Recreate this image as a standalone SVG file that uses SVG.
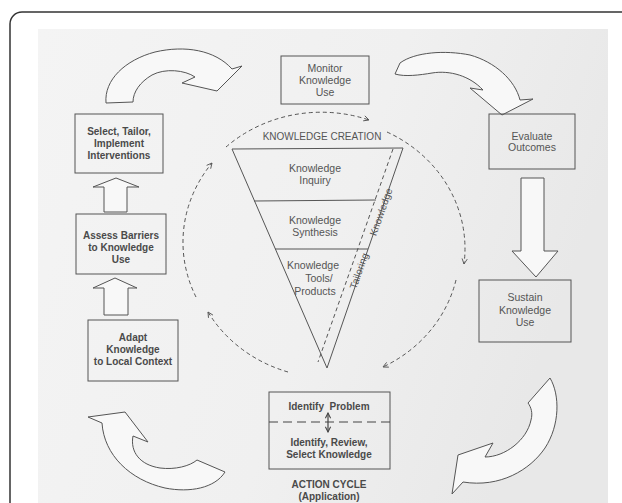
<svg xmlns="http://www.w3.org/2000/svg" width="622" height="503" viewBox="0 0 622 503">
<defs>
<linearGradient id="pg" x1="0" y1="0" x2="1" y2="0.3">
<stop offset="0" stop-color="#f4f4f4"/>
<stop offset="0.6" stop-color="#f0f0f0"/>
<stop offset="1" stop-color="#e8e8e8"/>
</linearGradient>
<marker id="ah" viewBox="0 0 8 8" refX="7" refY="4" markerWidth="7" markerHeight="7" orient="auto" markerUnits="userSpaceOnUse">
<path d="M1,1 L7,4 L1,7" fill="none" stroke="#555" stroke-width="1"/>
</marker>
<marker id="dh" viewBox="0 0 8 8" refX="7" refY="4" markerWidth="7" markerHeight="7" orient="auto-start-reverse" markerUnits="userSpaceOnUse">
<path d="M1,1 L7,4 L1,7" fill="none" stroke="#444" stroke-width="1.2"/>
</marker>
</defs>
<style>
.box{fill:none;stroke:#555;stroke-width:1}
.blk{fill:#f8f8f8;stroke:#555;stroke-width:1;stroke-linejoin:round}
.t{font-family:"Liberation Sans",Arial,sans-serif;font-size:10.5px;fill:#555;text-anchor:middle}
.b{font-family:"Liberation Sans",Arial,sans-serif;font-size:10px;font-weight:bold;fill:#4a4a4a;text-anchor:middle}
.dash{fill:none;stroke:#555;stroke-width:1;stroke-dasharray:4 3}
</style>
<rect x="0" y="0" width="622" height="503" fill="#ffffff"/>
<rect x="10" y="12" width="700" height="600" rx="12" fill="#ffffff" stroke="#333" stroke-width="1.5"/>
<rect x="38" y="29" width="570" height="480" fill="url(#pg)"/>

<g id="connectors">
<path class="blk" d="M106,103 C104,80 125,60 155,52 C185,45 215,50 232,69 L242,66 L217,91 L182,83 L195,77 C185,70 165,68 152,75 C140,82 133,92 133,102 Z"/>
<path class="blk" d="M395,74 L400,63 C415,52 445,50 470,55 C495,62 515,80 520,100 L533,99 L502,115 L470,88 L483,90 C470,76 450,70 432,73 C420,75 405,77 395,74 Z"/>
<path class="blk" d="M88,417 L125,412 L148,442 L133,436 C130,452 140,465 160,468 C175,470 190,466 197,460 L225,472 C215,488 190,493 165,488 C130,480 104,455 102,423 Z"/>
<path class="blk" d="M550,378 C560,395 560,425 545,448 C530,470 500,488 463,482 L452,494 L458,455 L493,443 L485,457 C505,457 527,440 531,420 C533,413 531,407 528,403 Z"/>
<polygon class="blk" points="104,212 104,187 93,187 116,178 139,187 127,187 127,212"/>
<polygon class="blk" points="104,315 104,288 93,288 115,278 137,288 128,288 128,315"/>
<polygon class="blk" points="521,178 521,251 512,251 536,277 558,251 544,251 544,178"/>
<path class="dash" d="M226,147 A140 130 0 0 1 369,120" marker-end="url(#ah)"/>
<path class="dash" d="M387,132 A140 130 0 0 1 464,264" marker-end="url(#ah)"/>
<path class="dash" d="M456,280 A140 130 0 0 1 383,367" marker-end="url(#ah)"/>
<path class="dash" d="M288,372 A140 130 0 0 1 208,312" marker-end="url(#ah)"/>
<path class="dash" d="M196,297 A140 130 0 0 1 212,163" marker-end="url(#ah)"/>
</g>

<g id="monitor">
<rect class="box" x="281" y="56" width="88" height="48"/>
<text class="t" x="325" y="72">Monitor</text>
<text class="t" x="325" y="84">Knowledge</text>
<text class="t" x="325" y="96">Use</text>
</g>
<g id="select">
<rect class="box" x="75" y="114" width="88" height="59"/>
<text class="b" x="119" y="135">Select, Tailor,</text>
<text class="b" x="119" y="147">Implement</text>
<text class="b" x="119" y="159">Interventions</text>
</g>
<g id="evaluate">
<rect class="box" x="489" y="114" width="86" height="55"/>
<text class="t" x="532" y="140">Evaluate</text>
<text class="t" x="532" y="151">Outcomes</text>
</g>
<g id="assess">
<rect class="box" x="76" y="214" width="90" height="60"/>
<text class="b" x="121" y="239">Assess Barriers</text>
<text class="b" x="121" y="251">to Knowledge</text>
<text class="b" x="121" y="263">Use</text>
</g>
<g id="adapt">
<rect class="box" x="88" y="320" width="90" height="61"/>
<text class="b" x="133" y="341">Adapt</text>
<text class="b" x="133" y="353">Knowledge</text>
<text class="b" x="133" y="365">to Local Context</text>
</g>
<g id="sustain">
<rect class="box" x="479" y="280" width="92" height="62"/>
<text class="t" x="525" y="301">Sustain</text>
<text class="t" x="525" y="314">Knowledge</text>
<text class="t" x="525" y="326">Use</text>
</g>

<g id="knowledge-creation">
<text class="t" x="322" y="140" style="font-size:10px">KNOWLEDGE CREATION</text>
<polygon class="box" points="232,149 403,148 327,368"/>
<line class="box" x1="254" y1="201" x2="376" y2="200"/>
<line class="box" x1="275" y1="249" x2="368" y2="249"/>
<line class="dash" x1="393" y1="149" x2="318" y2="362"/>
<text class="t" x="315" y="172">Knowledge</text>
<text class="t" x="315" y="184">Inquiry</text>
<text class="t" x="315" y="224">Knowledge</text>
<text class="t" x="315" y="236">Synthesis</text>
<text class="t" x="313" y="269">Knowledge</text>
<text class="t" x="319" y="282">Tools/</text>
<text class="t" x="315" y="295">Products</text>
<text class="t" transform="translate(381,212) rotate(-70.5)" dy="3.5" style="font-size:10px">Knowledge</text>
<text class="t" transform="translate(359,271) rotate(-70.5)" dy="3.5" style="font-size:10px">Tailoring</text>
</g>

<g id="action-cycle">
<rect class="box" x="269" y="392" width="121" height="77"/>
<text class="b" x="329" y="410" style="white-space:pre">Identify  Problem</text>
<line x1="269" y1="422" x2="390" y2="422" stroke="#444" stroke-width="1.2" stroke-dasharray="9 5"/>
<line x1="328" y1="413" x2="328" y2="432" stroke="#444" stroke-width="1.2" marker-start="url(#dh)" marker-end="url(#dh)"/>
<text class="b" x="329" y="446">Identify, Review,</text>
<text class="b" x="329" y="458">Select Knowledge</text>
<text class="b" x="329" y="488">ACTION CYCLE</text>
<text class="b" x="329" y="500">(Application)</text>
</g>
</svg>
